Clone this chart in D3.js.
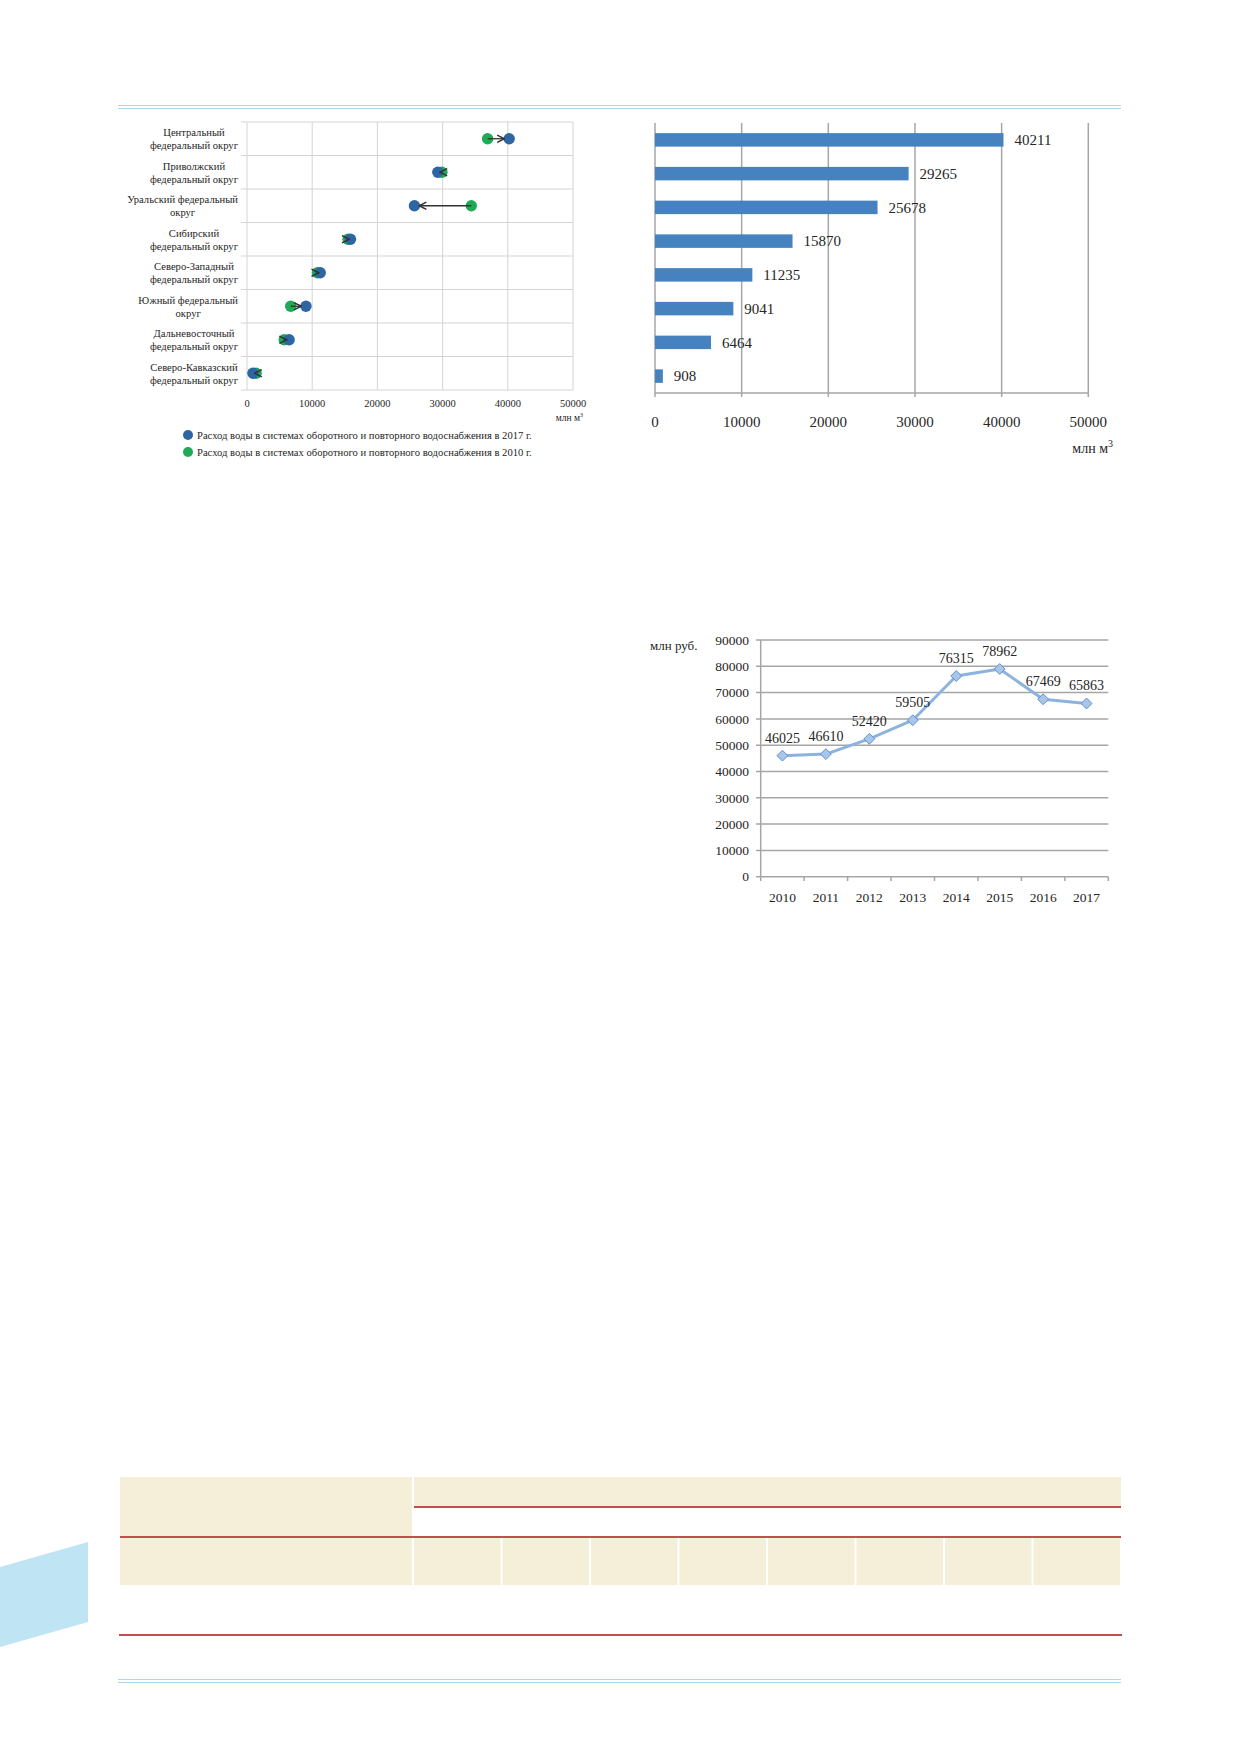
<!DOCTYPE html>
<html>
<head>
<meta charset="utf-8">
<script src="https://cdn.jsdelivr.net/npm/d3@7"></script>
<style>
    body { margin: 0; background: #fff; }
    svg text { font-family: "Liberation Serif", "DejaVu Serif", serif; fill: #262626; }
</style>
</head>
<body>
<script>
//district names (two lines each) for the dumbbell chart
var districts = [
    ["Центральный", "федеральный округ"],
    ["Приволжский", "федеральный округ"],
    ["Уральский федеральный", "округ"],
    ["Сибирский", "федеральный округ"],
    ["Северо-Западный", "федеральный округ"],
    ["Южный федеральный", "округ"],
    ["Дальневосточный", "федеральный округ"],
    ["Северо-Кавказский", "федеральный округ"]
];
//water use in recycling systems, mln m3
var values2017 = [40211, 29265, 25678, 15870, 11235, 9041, 6464, 908];
var values2010 = [36900, 29900, 34400, 15500, 10800, 6700, 5700, 1400];
var legendLabels = [
    "Расход воды в системах оборотного и повторного водоснабжения в 2017 г.",
    "Расход воды в системах оборотного и повторного водоснабжения в 2010 г."
];
var xTicks = [0, 10000, 20000, 30000, 40000, 50000];

//expenses line chart, mln rub
var years = ["2010", "2011", "2012", "2013", "2014", "2015", "2016", "2017"];
var costs = [46025, 46610, 52420, 59505, 76315, 78962, 67469, 65863];
var yTicks = [0, 10000, 20000, 30000, 40000, 50000, 60000, 70000, 80000, 90000];

//empty table layout: number of year columns
var tableCols = 8;

window.onload = function(){
    var width = 1239,
        height = 1752;

    var svg = d3.select("body")
        .append("svg")
        .attr("width", width)
        .attr("height", height);

    //page decoration: double blue rules
    [[105.5, 108.5], [1679.5, 1682.5]].forEach(function(pair){
        pair.forEach(function(y){
            svg.append("line")
                .attr("x1", 118).attr("x2", 1121)
                .attr("y1", y).attr("y2", y)
                .attr("stroke", "#a9d8ee")
                .attr("stroke-width", 1);
        });
    });
    //blue tab at the page edge
    svg.append("polygon")
        .attr("points", "0,1567 88,1542 88,1622 0,1647")
        .attr("fill", "#bfe4f4");

    // ---------------- dumbbell chart ----------------
    var dx = d3.scaleLinear().domain([0, 50000]).range([247, 573]);
    var dy = d3.scaleBand().domain(d3.range(districts.length)).range([122, 390]);

    var dumb = svg.append("g").attr("class", "dumbbell");

    //vertical gridlines
    dumb.selectAll(".vgrid")
        .data(xTicks)
        .enter()
        .append("line")
        .attr("class", "vgrid")
        .attr("x1", function(d){ return dx(d); })
        .attr("x2", function(d){ return dx(d); })
        .attr("y1", 122).attr("y2", 390)
        .attr("stroke", "#d4d4d4")
        .attr("stroke-width", 1);

    //horizontal lines at row boundaries
    var rowEdges = d3.range(districts.length + 1).map(function(i){
        return i < districts.length ? dy(i) : dy.range()[1];
    });
    dumb.selectAll(".hgrid")
        .data(rowEdges)
        .enter()
        .append("line")
        .attr("class", "hgrid")
        .attr("x1", 241).attr("x2", dx(50000))
        .attr("y1", function(d){ return d; })
        .attr("y2", function(d){ return d; })
        .attr("stroke", "#d4d4d4")
        .attr("stroke-width", 1);

    //tick labels
    dumb.selectAll(".xlab")
        .data(xTicks)
        .enter()
        .append("text")
        .attr("class", "xlab")
        .attr("x", function(d){ return dx(d); })
        .attr("y", 403)
        .attr("dy", "0.35em")
        .attr("text-anchor", "middle")
        .attr("font-size", 10.5)
        .text(function(d){ return d; });

    var unit1 = dumb.append("text")
        .attr("x", 583).attr("y", 418)
        .attr("dy", "0.35em")
        .attr("text-anchor", "end")
        .attr("font-size", 9.5);
    unit1.append("tspan").text("млн м");
    unit1.append("tspan").attr("dy", "-4").attr("font-size", 6).text("3");

    //category labels, each block centred and right aligned to the axis
    districts.forEach(function(lines, i){
        var cy = dy(i) + dy.bandwidth() / 2;
        var g = dumb.append("g");
        var texts = g.selectAll("text")
            .data(lines)
            .enter()
            .append("text")
            .attr("y", function(d, j){ return cy - 6 + j * 13; })
            .attr("dy", "0.35em")
            .attr("text-anchor", "middle")
            .attr("font-size", 10.6)
            .text(function(d){ return d; });
        var w = d3.max(texts.nodes(), function(n){ return n.getComputedTextLength(); });
        texts.attr("x", 238 - w / 2);
    });

    //arrow marker
    svg.append("defs").append("marker")
        .attr("id", "arrow")
        .attr("viewBox", "0 0 10 10")
        .attr("refX", 9).attr("refY", 5)
        .attr("markerWidth", 7).attr("markerHeight", 7)
        .attr("orient", "auto")
        .append("path")
        .attr("d", "M1,1 L9,5 L1,9")
        .attr("fill", "none")
        .attr("stroke", "#333")
        .attr("stroke-width", 1.6);

    var r = 5.7;
    //2010 dots
    dumb.selectAll(".dot10")
        .data(values2010)
        .enter()
        .append("circle")
        .attr("class", "dot10")
        .attr("cx", function(d){ return dx(d); })
        .attr("cy", function(d, i){ return dy(i) + dy.bandwidth() / 2; })
        .attr("r", r)
        .attr("fill", "#1faa55");

    //2017 dots
    dumb.selectAll(".dot17")
        .data(values2017)
        .enter()
        .append("circle")
        .attr("class", "dot17")
        .attr("cx", function(d){ return dx(d); })
        .attr("cy", function(d, i){ return dy(i) + dy.bandwidth() / 2; })
        .attr("r", r)
        .attr("fill", "#2e66a3");

    //arrows from 2010 to 2017
    dumb.selectAll(".arrow")
        .data(values2017)
        .enter()
        .append("line")
        .attr("class", "arrow")
        .attr("x1", function(d, i){ return dx(values2010[i]); })
        .attr("x2", function(d, i){
            var dir = d > values2010[i] ? 1 : -1;
            var gap = Math.abs(dx(d) - dx(values2010[i]));
            return dx(d) - dir * Math.min(r - 1, gap / 2);
        })
        .attr("y1", function(d, i){ return dy(i) + dy.bandwidth() / 2; })
        .attr("y2", function(d, i){ return dy(i) + dy.bandwidth() / 2; })
        .attr("stroke", "#333")
        .attr("stroke-width", 1.3)
        .attr("marker-end", "url(#arrow)");

    //legend
    var legColors = ["#2e66a3", "#1faa55"];
    var leg = dumb.selectAll(".legend")
        .data(legendLabels)
        .enter()
        .append("g")
        .attr("class", "legend")
        .attr("transform", function(d, i){ return "translate(188," + (435 + i * 17) + ")"; });
    leg.append("circle")
        .attr("r", 5)
        .attr("fill", function(d, i){ return legColors[i]; });
    leg.append("text")
        .attr("x", 9)
        .attr("dy", "0.35em")
        .attr("font-size", 10.6)
        .text(function(d){ return d; });

    // ---------------- bar chart ----------------
    var bx = d3.scaleLinear().domain([0, 50000]).range([655, 1088.3]);
    var by = d3.scaleBand().domain(d3.range(values2017.length)).range([123, 393]).paddingInner(0.6).paddingOuter(0.3);

    var bars = svg.append("g").attr("class", "bars");

    bars.selectAll(".bgrid")
        .data(xTicks)
        .enter()
        .append("line")
        .attr("class", "bgrid")
        .attr("x1", function(d){ return bx(d); })
        .attr("x2", function(d){ return bx(d); })
        .attr("y1", 123).attr("y2", 397)
        .attr("stroke", "#a6a6a6")
        .attr("stroke-width", 1.5);

    bars.append("line")
        .attr("x1", bx(0)).attr("x2", bx(50000))
        .attr("y1", 393).attr("y2", 393)
        .attr("stroke", "#a6a6a6")
        .attr("stroke-width", 1.5);

    bars.selectAll(".bar")
        .data(values2017)
        .enter()
        .append("rect")
        .attr("class", "bar")
        .attr("x", bx(0))
        .attr("y", function(d, i){ return by(i); })
        .attr("width", function(d){ return bx(d) - bx(0); })
        .attr("height", by.bandwidth())
        .attr("fill", "#4682c0");

    bars.selectAll(".blab")
        .data(values2017)
        .enter()
        .append("text")
        .attr("class", "blab")
        .attr("x", function(d){ return bx(d) + 11; })
        .attr("y", function(d, i){ return by(i) + by.bandwidth() / 2; })
        .attr("dy", "0.35em")
        .attr("font-size", 15)
        .text(function(d){ return d; });

    bars.selectAll(".bxlab")
        .data(xTicks)
        .enter()
        .append("text")
        .attr("class", "bxlab")
        .attr("x", function(d){ return bx(d); })
        .attr("y", 422)
        .attr("dy", "0.35em")
        .attr("text-anchor", "middle")
        .attr("font-size", 15)
        .text(function(d){ return d; });

    var unit2 = bars.append("text")
        .attr("x", 1113).attr("y", 448)
        .attr("dy", "0.35em")
        .attr("text-anchor", "end")
        .attr("font-size", 14);
    unit2.append("tspan").text("млн м");
    unit2.append("tspan").attr("dy", "-6").attr("font-size", 10).text("3");

    // ---------------- line chart ----------------
    var lx = d3.scaleBand().domain(years).range([760.7, 1108.3]);
    var ly = d3.scaleLinear().domain([0, 90000]).range([876.7, 640]);

    var lc = svg.append("g").attr("class", "linechart");

    lc.selectAll(".lgrid")
        .data(yTicks)
        .enter()
        .append("line")
        .attr("class", "lgrid")
        .attr("x1", 756).attr("x2", 1108.3)
        .attr("y1", function(d){ return ly(d); })
        .attr("y2", function(d){ return ly(d); })
        .attr("stroke", "#a6a6a6")
        .attr("stroke-width", 1.5);

    lc.append("line")
        .attr("x1", 760.7).attr("x2", 760.7)
        .attr("y1", 640).attr("y2", 876.7)
        .attr("stroke", "#a6a6a6")
        .attr("stroke-width", 1.5);

    //x ticks between categories
    var bounds = years.map(function(d){ return lx(d); }).concat([lx.range()[1]]);
    lc.selectAll(".xtick")
        .data(bounds)
        .enter()
        .append("line")
        .attr("class", "xtick")
        .attr("x1", function(d){ return d; })
        .attr("x2", function(d){ return d; })
        .attr("y1", 876.7).attr("y2", 881)
        .attr("stroke", "#a6a6a6")
        .attr("stroke-width", 1.5);

    lc.selectAll(".ylab")
        .data(yTicks)
        .enter()
        .append("text")
        .attr("class", "ylab")
        .attr("x", 749)
        .attr("y", function(d){ return ly(d); })
        .attr("dy", "0.35em")
        .attr("text-anchor", "end")
        .attr("font-size", 13.5)
        .text(function(d){ return d; });

    lc.selectAll(".yearlab")
        .data(years)
        .enter()
        .append("text")
        .attr("class", "yearlab")
        .attr("x", function(d){ return lx(d) + lx.bandwidth() / 2; })
        .attr("y", 897)
        .attr("dy", "0.35em")
        .attr("text-anchor", "middle")
        .attr("font-size", 13.5)
        .text(function(d){ return d; });

    lc.append("text")
        .attr("x", 650).attr("y", 645)
        .attr("dy", "0.35em")
        .attr("font-size", 13)
        .text("млн руб.");

    var line = d3.line()
        .x(function(d, i){ return lx(years[i]) + lx.bandwidth() / 2; })
        .y(function(d){ return ly(d); });

    lc.append("path")
        .datum(costs)
        .attr("d", line)
        .attr("fill", "none")
        .attr("stroke", "#8cb3e0")
        .attr("stroke-width", 3)
        .attr("stroke-linejoin", "round");

    lc.selectAll(".marker")
        .data(costs)
        .enter()
        .append("path")
        .attr("class", "marker")
        .attr("d", d3.symbol().type(d3.symbolDiamond2).size(75))
        .attr("transform", function(d, i){
            return "translate(" + (lx(years[i]) + lx.bandwidth() / 2) + "," + ly(d) + ")";
        })
        .attr("fill", "#a9c6ea")
        .attr("stroke", "#5f90cc")
        .attr("stroke-width", 1);

    lc.selectAll(".vlab")
        .data(costs)
        .enter()
        .append("text")
        .attr("class", "vlab")
        .attr("x", function(d, i){ return lx(years[i]) + lx.bandwidth() / 2; })
        .attr("y", function(d){ return ly(d) - 18; })
        .attr("dy", "0.35em")
        .attr("text-anchor", "middle")
        .attr("font-size", 14)
        .text(function(d){ return d; });

    // ---------------- empty table frame ----------------
    var tx = d3.scaleLinear().domain([0, tableCols]).range([413, 1121]);
    var tab = svg.append("g").attr("class", "table");
    var beige = "#f5eed8",
        red = "#c0504d";

    //header left cell (two rows high)
    tab.append("rect")
        .attr("x", 120).attr("y", 1477)
        .attr("width", 413 - 120 - 1).attr("height", 1537 - 1477)
        .attr("fill", beige);
    //header right top cell
    tab.append("rect")
        .attr("x", 414).attr("y", 1477)
        .attr("width", 1121 - 414).attr("height", 1506 - 1477)
        .attr("fill", beige);
    //second row cells
    tab.append("rect")
        .attr("x", 120).attr("y", 1538)
        .attr("width", 413 - 120 - 1).attr("height", 1585 - 1538)
        .attr("fill", beige);
    tab.selectAll(".cell")
        .data(d3.range(tableCols))
        .enter()
        .append("rect")
        .attr("class", "cell")
        .attr("x", function(d){ return tx(d) + 1; })
        .attr("y", 1538)
        .attr("width", function(d){ return tx(d + 1) - tx(d) - 2; })
        .attr("height", 1585 - 1538)
        .attr("fill", beige);

    //red rules
    [[414, 1121, 1507], [120, 1121, 1537], [119, 1122, 1635]].forEach(function(s){
        tab.append("line")
            .attr("x1", s[0]).attr("x2", s[1])
            .attr("y1", s[2]).attr("y2", s[2])
            .attr("stroke", red)
            .attr("stroke-width", 2);
    });
};
</script>
</body>
</html>
